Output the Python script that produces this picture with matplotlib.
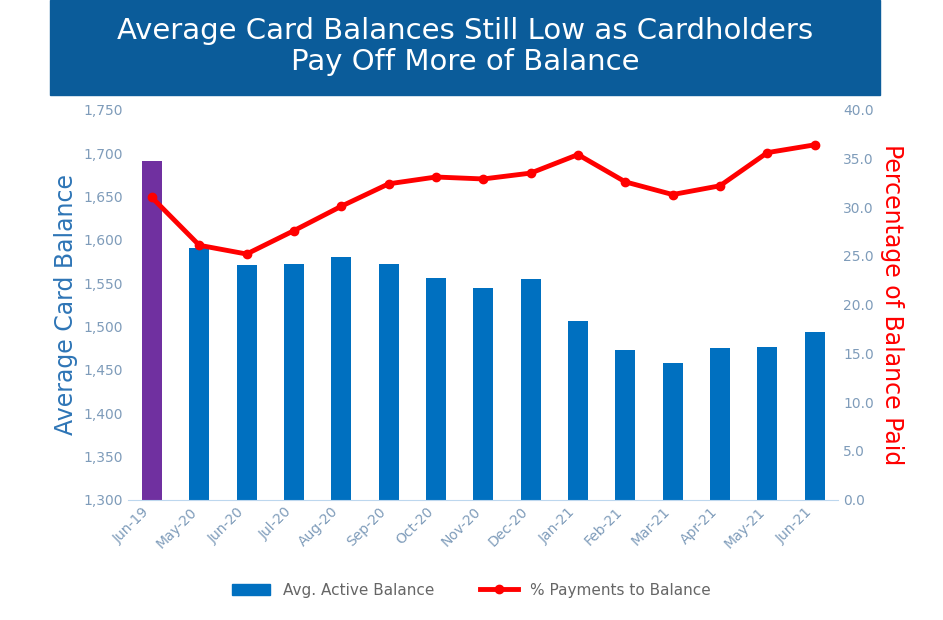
import matplotlib.pyplot as plt
from matplotlib.patches import Rectangle
from matplotlib.lines import Line2D
from matplotlib.patches import Patch

months = ["Jun-19", "May-20", "Jun-20", "Jul-20", "Aug-20", "Sep-20", "Oct-20", "Nov-20",
          "Dec-20", "Jan-21", "Feb-21", "Mar-21", "Apr-21", "May-21", "Jun-21"]
avg_balance = [1691, 1591, 1571, 1572, 1580, 1572, 1556, 1544, 1555, 1506, 1473, 1458, 1475, 1476, 1493]
pct_paid = [31.0, 26.1, 25.2, 27.6, 30.1, 32.4, 33.1, 32.9, 33.5, 35.4, 32.6, 31.3, 32.2, 35.6, 36.4]

tick_color = "#7f9cba"
bar_colors = ["#7030a0"] + ["#0070c0"] * (len(months) - 1)

fig = plt.figure(figsize=(9.43, 6.2), dpi=100)
fig.patches.append(Rectangle((0.053, 0.847), 0.88, 0.153, transform=fig.transFigure,
                             color="#0b5c9a", zorder=0))
fig.text(0.493, 0.925, "Average Card Balances Still Low as Cardholders\nPay Off More of Balance",
         ha="center", va="center", color="white", fontsize=21, linespacing=1.1)

ax = fig.add_axes([0.136, 0.194, 0.753, 0.629])
x = range(len(months))
ax.bar(x, avg_balance, width=0.42, color=bar_colors, zorder=2)
ax.set_ylim(1300, 1750)
ax.set_yticks(range(1300, 1751, 50))
ax.set_yticklabels([f"{v:,}" for v in range(1300, 1751, 50)])
ax.set_xlim(-0.5, len(months) - 0.5)
ax.set_xticks(list(x))
ax.set_xticklabels(months, rotation=45, ha="right")
ax.set_ylabel("Average Card Balance", color="#2e75b6", fontsize=17)

ax2 = ax.twinx()
ax2.plot(x, pct_paid, color="#ff0000", lw=3.5, marker="o", ms=6, zorder=3)
ax2.set_ylim(0, 40)
ax2.set_yticks(range(0, 41, 5))
ax2.set_yticklabels([f"{v:.1f}" for v in range(0, 41, 5)])
ax2.set_ylabel("Percentage of Balance Paid", color="#ff0000", fontsize=17, rotation=270, labelpad=22)

for a in (ax, ax2):
    for s in a.spines.values():
        s.set_visible(False)
    a.tick_params(colors=tick_color, labelsize=10, length=0)
ax.spines["bottom"].set_visible(True)
ax.spines["bottom"].set_color("#bdd7ee")

handles = [Patch(color="#0070c0", label="Avg. Active Balance"),
           Line2D([], [], color="#ff0000", lw=3.5, marker="o", ms=6, label="% Payments to Balance")]
fig.legend(handles=handles, loc="center", bbox_to_anchor=(0.5, 0.048), ncol=2, frameon=False,
           fontsize=11, labelcolor="#666666", handlelength=2.5, columnspacing=3)

fig.savefig("out.png", dpi=100)
